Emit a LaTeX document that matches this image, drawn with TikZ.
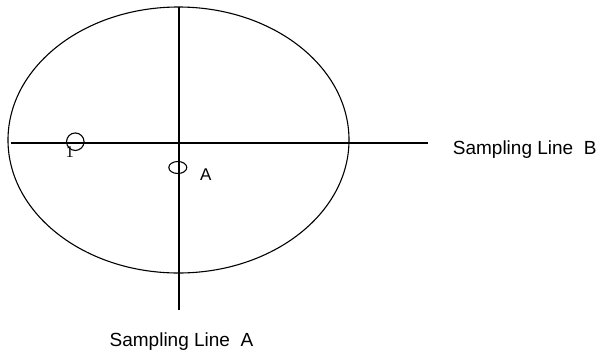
\documentclass[tikz,border=0pt]{standalone}
\usepackage{fontspec}
\setmainfont{Liberation Sans}
\newfontfamily\numfont{Liberation Serif}
\usetikzlibrary{shapes.geometric}
\tikzset{
  plotline/.style={line width=1.1pt},
  sitemark/.style={draw,line width=1.1pt,inner sep=0pt},
  linelabel/.style={inner sep=0pt,font=\fontsize{19}{22}\selectfont}
}
\begin{document}
\begin{tikzpicture}[x=1pt,y=-1pt]
\useasboundingbox (0,0) rectangle (603,357);
% Study area
\node[ellipse,draw,plotline,minimum width=341,minimum height=266,inner sep=0pt] (field) at (178.5,140) {};
% Sampling lines
\coordinate (lineAtop) at (179,7);
\coordinate (lineAbot) at (179,310);
\coordinate (lineBleft) at (11,143);
\coordinate (lineBright) at (428,143);
\draw[plotline] (lineAtop) -- (lineAbot);
\draw[plotline] (lineBleft) -- (lineBright);
\node[linelabel,anchor=west] (labelB) at (452.7,149.5) {Sampling Line\ \ B};
\node[linelabel] (labelA) at (181.5,341.7) {Sampling Line\ \ A};

% Sampling sites
\node[sitemark,circle,minimum size=17.5] (site1) at (75.3,141.7) {};
\node[sitemark,ellipse,minimum width=18,minimum height=12] (siteA) at (177.8,167.5) {};
\node[inner sep=0pt,font=\numfont\fontsize{16.5}{18}\selectfont] (num1) at (69.7,152) {1};
\node[inner sep=0pt,font=\fontsize{17}{20}\selectfont] (nameA) at (205.8,175) {A};
\end{tikzpicture}
\end{document}
